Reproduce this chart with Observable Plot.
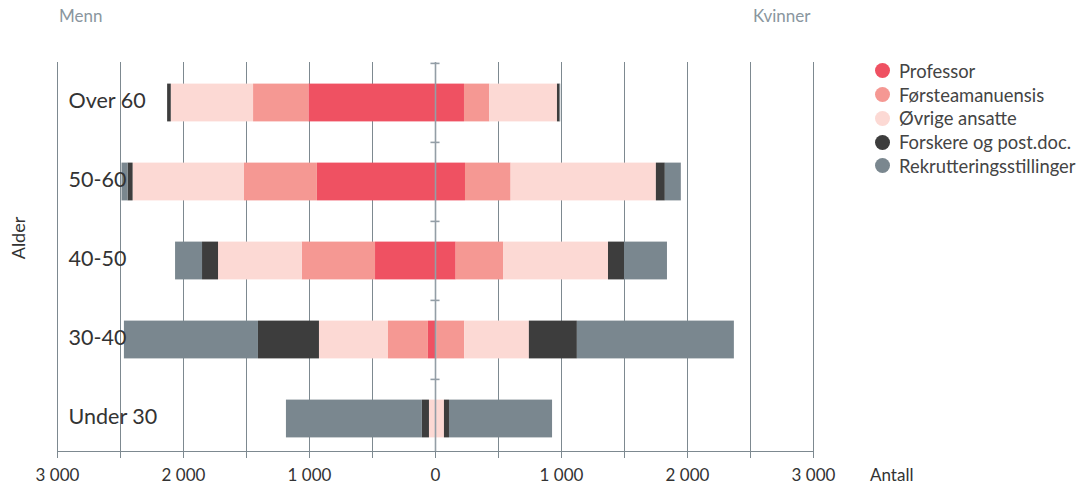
<!DOCTYPE html>
<html>
<head>
<meta charset="utf-8">
<script src="https://cdn.jsdelivr.net/npm/d3@7"></script>
<script src="https://cdn.jsdelivr.net/npm/@observablehq/plot@0.6"></script>
<style>
  body { margin: 0; background: #fff; font-family: Lato, "Open Sans", sans-serif; }
  #wrap { position: relative; width: 1080px; height: 486px; overflow: hidden; }
  .hdr { position: absolute; font-size: 17px; line-height: 17px; color: #8a969e; white-space: nowrap; }
  #legend { position: absolute; left: 875px; top: 59px; font-size: 18.4px; color: #444; }
  #legend .row { display: flex; align-items: center; height: 23.75px; white-space: nowrap; }
  #legend .dot { width: 15px; height: 15px; border-radius: 50%; margin-right: 9px; flex: none; }
  #alder { position: absolute; left: 18px; top: 238px; transform: translate(-50%, -50%) rotate(-90deg); font-size: 18px; line-height: 18px; color: #333; }
  #antall { position: absolute; left: 870px; top: 466px; font-size: 17px; line-height: 17px; color: #333; }
</style>
</head>
<body>
<div id="wrap"></div>
<script>
// ---- data ----
const categories = ["Over 60", "50-60", "40-50", "30-40", "Under 30"];
const types = ["Professor", "Førsteamanuensis", "Øvrige ansatte", "Forskere og post.doc.", "Rekrutteringsstillinger"];
const colors = ["#ef5162", "#f59893", "#fcd9d4", "#3d3d3d", "#7a878f"];

// Menn (values per age group, in category order)
const professorMen      = [1005, 937, 476, 56, 0];
const forsteMen         = [439, 579, 582, 317, 0];
const ovrigeMen         = [653, 884, 664, 548, 48];
const forskereMen       = [29, 40, 127, 484, 56];
const rekrutteringMen   = [0, 48, 214, 1064, 1079];

// Kvinner
const professorWomen    = [230, 238, 164, 10, 0];
const forsteWomen       = [201, 362, 376, 222, 0];
const ovrigeWomen       = [537, 1153, 833, 513, 71];
const forskereWomen     = [21, 71, 127, 381, 40];
const rekrutteringWomen = [5, 127, 341, 1246, 818];

const xTicks = [-3000, -2500, -2000, -1500, -1000, -500, 0, 500, 1000, 1500, 2000, 2500, 3000];

// ---- table ----
const menByType = [professorMen, forsteMen, ovrigeMen, forskereMen, rekrutteringMen];
const womenByType = [professorWomen, forsteWomen, ovrigeWomen, forskereWomen, rekrutteringWomen];
const rows = [];
types.forEach((t, ti) => {
  categories.forEach((c, ci) => {
    rows.push({age: c, type: t, value: -menByType[ti][ci]});
    rows.push({age: c, type: t, value: womenByType[ti][ci]});
  });
});

const fmt = d => d3.format(",")(Math.abs(d)).replace(/,/g, " ");
const grid = "#7d8990";

const chart = Plot.plot({
  width: 1080,
  height: 486,
  marginLeft: 57,
  marginRight: 267,
  marginTop: 62,
  marginBottom: 35,
  style: {fontFamily: "Lato, 'Open Sans', sans-serif", fontSize: "17px", color: "#333", background: "#fff"},
  x: {domain: [-3000, 3000], axis: null},
  y: {domain: categories, range: [62.4, 458.6], padding: 0, axis: null},
  color: {domain: types, range: colors},
  marks: [
    Plot.gridX(xTicks, {stroke: grid, strokeOpacity: 1, strokeWidth: 1}),
    Plot.barX(rows, Plot.stackX({x: "value", y: "age", fill: "type", z: "type", insetTop: 20.6, insetBottom: 20.6})),
    Plot.ruleX([0], {stroke: "#939ea6", strokeWidth: 1.6}),
    Plot.ruleY(categories, {y: d => d, x1: -36, x2: 36, dy: -39.6, stroke: "#939ea6", strokeWidth: 1.6}),
    Plot.frame({anchor: "bottom", stroke: grid}),
    Plot.axisX(xTicks, {
      anchor: "bottom", tickSize: 7, tickPadding: 10.5, stroke: grid, fill: "#333",
      tickFormat: d => (d % 1000 === 0 ? fmt(d) : ""), label: null, fontSize: 17
    }),
    Plot.text(categories, {x: () => -3000, y: d => d, text: d => d, textAnchor: "start", dx: 11, dy: -2, fontSize: 21.5, fill: "#333"})
  ]
});

const wrap = document.getElementById("wrap");
wrap.appendChild(chart);

function addDiv(cls, id, text, left, top) {
  const el = document.createElement("div");
  if (cls) el.className = cls;
  if (id) el.id = id;
  el.textContent = text;
  if (left != null) el.style.left = left + "px";
  if (top != null) el.style.top = top + "px";
  wrap.appendChild(el);
  return el;
}
addDiv("hdr", null, "Menn", 59, 6.5);
addDiv("hdr", null, "Kvinner", 753, 6.5);
addDiv(null, "alder", "Alder");
addDiv(null, "antall", "Antall");

const legend = document.createElement("div");
legend.id = "legend";
types.forEach((t, i) => {
  const row = document.createElement("div");
  row.className = "row";
  const dot = document.createElement("span");
  dot.className = "dot";
  dot.style.background = colors[i];
  const lab = document.createElement("span");
  lab.textContent = t;
  row.appendChild(dot);
  row.appendChild(lab);
  legend.appendChild(row);
});
wrap.appendChild(legend);
</script>
</body>
</html>
